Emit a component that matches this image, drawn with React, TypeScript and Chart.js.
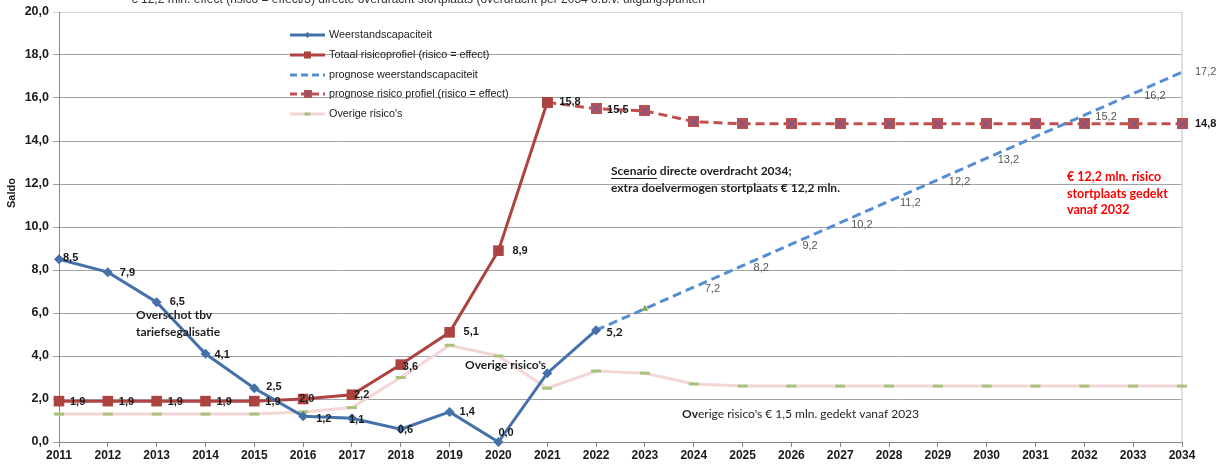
import React, { useEffect, useRef } from 'react';
import { Chart, registerables } from 'chart.js';

Chart.register(...registerables);

// ---------- DATA ----------
const years = ['2011', '2012', '2013', '2014', '2015', '2016', '2017', '2018', '2019', '2020', '2021', '2022',
  '2023', '2024', '2025', '2026', '2027', '2028', '2029', '2030', '2031', '2032', '2033', '2034'];

const weerstandscapaciteit = [8.5, 7.9, 6.5, 4.1, 2.5, 1.2, 1.1, 0.6, 1.4, 0.0, 3.2, 5.2,
  null, null, null, null, null, null, null, null, null, null, null, null];

const totaalRisicoprofiel = [1.9, 1.9, 1.9, 1.9, 1.9, 2.0, 2.2, 3.6, 5.1, 8.9, 15.8, null,
  null, null, null, null, null, null, null, null, null, null, null, null];

const prognoseWeerstand = [null, null, null, null, null, null, null, null, null, null, null, 5.2,
  6.2, 7.2, 8.2, 9.2, 10.2, 11.2, 12.2, 13.2, 14.2, 15.2, 16.2, 17.2];

const prognoseRisico = [null, null, null, null, null, null, null, null, null, null, 15.8, 15.5,
  15.4, 14.9, 14.8, 14.8, 14.8, 14.8, 14.8, 14.8, 14.8, 14.8, 14.8, 14.8];

const overigeRisicos = [1.3, 1.3, 1.3, 1.3, 1.3, 1.4, 1.6, 3.0, 4.5, 4.0, 2.5, 3.3,
  3.2, 2.7, 2.6, 2.6, 2.6, 2.6, 2.6, 2.6, 2.6, 2.6, 2.6, 2.6];

const yTickValues = [0, 2, 4, 6, 8, 10, 12, 14, 16, 18, 20];

const seriesNames = [
  'Weerstandscapaciteit',
  'Totaal risicoprofiel (risico = effect)',
  'prognose weerstandscapaciteit',
  'prognose risico profiel (risico = effect)',
  "Overige risico's",
];

const titleText = '€ 12,2 mln. effect (risico = effect/3) directe overdracht stortplaats (overdracht per 2034 o.b.v. uitgangspunten';
const scenarioLine1a = 'Scenario';
const scenarioLine1b = ' directe overdracht 2034;';
const scenarioLine2 = 'extra doelvermogen stortplaats € 12,2 mln.';
const redNote = ['€ 12,2 mln. risico', 'stortplaats gedekt', 'vanaf 2032'];
const overschotNote = ['Overschot tbv', 'tariefsegalisatie'];
const overigeNote = "Overige risico's";
const overigeBottomBold = 'Ov';
const overigeBottomRest = "erige risico's € 1,5 mln. gedekt vanaf 2023";

// which data points carry a value label, and label placement (offset from point)
const weerstandLabelPos = [
  { i: 0, dx: 4, dy: -1 }, { i: 1, dx: 12, dy: 1 }, { i: 2, dx: 13, dy: 0 }, { i: 3, dx: 9, dy: 1 },
  { i: 4, dx: 12, dy: -1 }, { i: 5, dx: 13, dy: 3 }, { i: 6, dx: -3, dy: 2 }, { i: 7, dx: -3, dy: 1 },
  { i: 8, dx: 10, dy: 0 }, { i: 9, dx: 0, dy: -9 },
];
const weerstandLastLabelPos = { i: 11, dx: 10, dy: 2 };
const totaalLabelPos = [
  { i: 0, dx: 11, dy: 1 }, { i: 1, dx: 11, dy: 1 }, { i: 2, dx: 11, dy: 1 }, { i: 3, dx: 11, dy: 1 },
  { i: 4, dx: 11, dy: 1 }, { i: 5, dx: -4, dy: 0 }, { i: 6, dx: 2, dy: 0 }, { i: 7, dx: 2, dy: 2 },
  { i: 8, dx: 14, dy: 0 }, { i: 9, dx: 14, dy: 0 }, { i: 10, dx: 12, dy: 0 },
];
const prognoseRisicoLabelPos = [{ i: 11, dx: 11, dy: 1 }];
const prognoseRisicoLastLabelPos = { i: 23, dx: 13, dy: 0 };
const prognoseWeerstandLabelPos = [13, 14, 15, 16, 17, 18, 19, 21, 22].map((i) => ({ i, dx: 11, dy: 2 }));
const prognoseWeerstandLastLabelPos = { i: 23, dx: 13, dy: 0 };

// ---------- STYLE ----------
const BLUE = '#4471a9';
const BLUE_DASH = '#558ed5';
const RED = '#ad4340';
const RED_DASH = '#c0504d';
const PINK = '#f3d6d5';
const GREEN = '#a8c47c';
const SANS = '"Liberation Sans", Arial, sans-serif';
const CAL = 'Lato, "Open Sans", sans-serif';

const fmt = (v: number) => v.toFixed(1).replace('.', ',');

function makeXSquare(size: number): HTMLCanvasElement {
  const c = document.createElement('canvas');
  c.width = size;
  c.height = size;
  const g = c.getContext('2d')!;
  g.fillStyle = RED_DASH;
  g.fillRect(0, 0, size, size);
  g.strokeStyle = '#6d5a9a';
  g.lineWidth = 1.2;
  g.beginPath();
  g.moveTo(1.5, 1.5);
  g.lineTo(size - 1.5, size - 1.5);
  g.moveTo(size - 1.5, 1.5);
  g.lineTo(1.5, size - 1.5);
  g.stroke();
  return c;
}

export default function App() {
  const ref = useRef<HTMLCanvasElement | null>(null);

  useEffect(() => {
    document.body.style.margin = '0';
    const canvas = ref.current;
    if (!canvas) return;
    const xSquare = makeXSquare(11);

    const drawPointLabels = (chart: any, ds: number, items: any[], font: string, color: string) => {
      const ctx = chart.ctx;
      const meta = chart.getDatasetMeta(ds);
      const data = chart.data.datasets[ds].data as number[];
      ctx.save();
      ctx.font = font;
      ctx.fillStyle = color;
      ctx.textAlign = 'left';
      ctx.textBaseline = 'middle';
      items.forEach(({ i, dx, dy }) => {
        const p = meta.data[i];
        if (!p || data[i] == null) return;
        ctx.fillText(fmt(data[i]), p.x + dx, p.y + dy);
      });
      ctx.restore();
    };

    const annotations = {
      id: 'annotations',
      beforeDatasetsDraw(chart: any) {
        const { ctx, chartArea } = chart;
        ctx.save();
        ctx.strokeStyle = '#d4d4d4';
        ctx.lineWidth = 1.5;
        ctx.beginPath();
        ctx.moveTo(chartArea.right, chartArea.top);
        ctx.lineTo(chartArea.right, chartArea.bottom);
        ctx.stroke();
        ctx.restore();
      },
      afterDatasetsDraw(chart: any) {
        const ctx = chart.ctx;
        drawPointLabels(chart, 0, weerstandLabelPos, `bold 11px ${SANS}`, '#1a1a1a');
        drawPointLabels(chart, 0, [weerstandLastLabelPos], `bold 12px ${CAL}`, '#1a1a1a');
        drawPointLabels(chart, 1, totaalLabelPos, `bold 11px ${SANS}`, '#1a1a1a');
        drawPointLabels(chart, 3, prognoseRisicoLabelPos, `bold 11px ${SANS}`, '#1a1a1a');
        drawPointLabels(chart, 3, [prognoseRisicoLastLabelPos], `bold 11px ${SANS}`, '#1a1a1a');
        drawPointLabels(chart, 2, prognoseWeerstandLabelPos, `11px ${SANS}`, '#555555');
        drawPointLabels(chart, 2, [prognoseWeerstandLastLabelPos], `11px ${SANS}`, '#555555');

        ctx.save();
        ctx.textAlign = 'left';
        ctx.textBaseline = 'middle';

        // title (clipped at top)
        ctx.font = `12px ${SANS}`;
        ctx.fillStyle = '#333333';
        ctx.textBaseline = 'alphabetic';
        ctx.fillText(titleText, 131, 3);
        ctx.textBaseline = 'middle';

        // y axis title
        ctx.save();
        ctx.translate(12, 193);
        ctx.rotate(-Math.PI / 2);
        ctx.textAlign = 'center';
        ctx.font = `bold 11px ${SANS}`;
        ctx.fillStyle = '#1a1a1a';
        ctx.fillText('Saldo', 0, 0);
        ctx.restore();

        // legend
        const lx0 = 290, lx1 = 325, tx = 329;
        const rows = [35, 55, 75, 94, 114];
        ctx.font = `10.8px ${SANS}`;
        rows.forEach((y, k) => {
          ctx.save();
          ctx.lineWidth = 3;
          if (k === 0) { ctx.strokeStyle = BLUE; }
          if (k === 1) { ctx.strokeStyle = RED; }
          if (k === 2) { ctx.strokeStyle = BLUE_DASH; ctx.setLineDash([7, 4]); }
          if (k === 3) { ctx.strokeStyle = RED_DASH; ctx.setLineDash([7, 4]); }
          if (k === 4) { ctx.strokeStyle = PINK; }
          ctx.beginPath();
          ctx.moveTo(lx0, y);
          ctx.lineTo(lx1, y);
          ctx.stroke();
          ctx.setLineDash([]);
          const mx = (lx0 + lx1) / 2;
          if (k === 0) {
            ctx.fillStyle = BLUE;
            ctx.beginPath();
            ctx.moveTo(mx - 3, y); ctx.lineTo(mx, y - 3); ctx.lineTo(mx + 3, y); ctx.lineTo(mx, y + 3);
            ctx.closePath(); ctx.fill();
          }
          if (k === 1) { ctx.fillStyle = RED; ctx.fillRect(mx - 3.5, y - 3.5, 7, 7); }
          if (k === 3) { ctx.drawImage(xSquare, mx - 4, y - 4, 8, 8); }
          if (k === 4) {
            ctx.strokeStyle = GREEN; ctx.lineWidth = 3;
            ctx.beginPath(); ctx.moveTo(mx - 3, y); ctx.lineTo(mx + 3, y); ctx.stroke();
          }
          ctx.restore();
          ctx.fillStyle = '#222222';
          ctx.fillText(seriesNames[k], tx, y);
        });

        // Overschot note
        ctx.font = `bold 12px ${CAL}`;
        ctx.fillStyle = '#1f1f1f';
        ctx.fillText(overschotNote[0], 136, 315);
        ctx.fillText(overschotNote[1], 136, 332);

        // Overige risico's note (middle)
        ctx.fillText(overigeNote, 465, 365);

        // Scenario note
        ctx.font = `bold 12px ${CAL}`;
        ctx.fillStyle = '#1f1f1f';
        ctx.fillText(scenarioLine1a, 611, 171);
        const wA = ctx.measureText(scenarioLine1a).width;
        ctx.fillText(scenarioLine1b, 611 + wA, 171);
        ctx.fillRect(611, 178, wA, 1);
        ctx.fillText(scenarioLine2, 611, 188);

        // red note
        ctx.font = `bold 12.5px ${CAL}`;
        ctx.fillStyle = '#ff0000';
        redNote.forEach((t, k) => ctx.fillText(t, 1067, 177 + k * 16.5));

        // bottom note
        ctx.fillStyle = '#1f1f1f';
        ctx.font = `bold 12px ${CAL}`;
        ctx.fillText(overigeBottomBold, 682, 414);
        const wB = ctx.measureText(overigeBottomBold).width;
        ctx.font = `12px ${CAL}`;
        ctx.fillText(overigeBottomRest, 682 + wB, 414);

        ctx.restore();
      },
    };

    const ptRadius = (arr: (number | null)[], r: number) => arr.map((v) => (v == null ? 0 : r));

    const chart = new Chart(canvas, {
      type: 'line',
      data: {
        labels: years,
        datasets: [
          {
            label: seriesNames[0],
            data: weerstandscapaciteit,
            borderColor: BLUE,
            backgroundColor: BLUE,
            borderWidth: 3,
            pointStyle: 'rectRot',
            pointRadius: 5,
            pointBorderWidth: 0,
            pointBackgroundColor: BLUE,
            tension: 0,
            clip: false,
          },
          {
            label: seriesNames[1],
            data: totaalRisicoprofiel,
            borderColor: RED,
            backgroundColor: RED,
            borderWidth: 3,
            pointStyle: 'rect',
            pointRadius: 7.5,
            pointBorderWidth: 0,
            pointBackgroundColor: RED,
            tension: 0,
            clip: false,
          },
          {
            label: seriesNames[2],
            data: prognoseWeerstand,
            borderColor: BLUE_DASH,
            backgroundColor: BLUE_DASH,
            borderWidth: 3,
            borderDash: [9, 5],
            pointStyle: 'triangle',
            pointRadius: prognoseWeerstand.map((_, i) => (i === 12 ? 4 : 0)),
            pointBorderWidth: 0,
            pointBackgroundColor: '#7fa84a',
            tension: 0,
            clip: false,
          },
          {
            label: seriesNames[3],
            data: prognoseRisico,
            borderColor: RED_DASH,
            backgroundColor: RED_DASH,
            borderWidth: 3,
            borderDash: [9, 5],
            pointStyle: xSquare,
            pointRadius: ptRadius(prognoseRisico, 6),
            tension: 0,
            clip: false,
          },
          {
            label: seriesNames[4],
            data: overigeRisicos,
            borderColor: PINK,
            backgroundColor: PINK,
            borderWidth: 3,
            pointStyle: 'line',
            pointRadius: 5,
            pointBorderWidth: 3,
            pointBorderColor: GREEN,
            tension: 0,
            clip: false,
          },
        ],
      },
      options: {
        responsive: false,
        animation: false,
        devicePixelRatio: 1,
        events: [],
        layout: { padding: { top: 12, right: 35, left: 0, bottom: 0 } },
        plugins: {
          legend: { display: false },
          tooltip: { enabled: false },
          title: { display: false },
        },
        scales: {
          x: {
            offset: false,
            grid: { drawOnChartArea: false, tickLength: 5, color: '#868686' },
            border: { color: '#868686', width: 1 },
            ticks: {
              font: { family: SANS, size: 12, weight: 'bold' },
              color: '#1a1a1a',
              padding: 1,
              maxRotation: 0,
              autoSkip: false,
            },
            afterFit: (s: any) => { s.height = 22; },
          },
          y: {
            min: 0,
            max: 20,
            afterBuildTicks: (s: any) => { s.ticks = yTickValues.map((v) => ({ value: v })); },
            grid: {
              color: (c: any) => (c.tick && c.tick.value === 20 ? '#d6d6d6' : '#a3a3a3'),
              tickLength: 6,
              lineWidth: 1,
            },
            border: { color: '#868686', width: 1 },
            ticks: {
              font: { family: SANS, size: 12.5, weight: 'bold' },
              color: '#1a1a1a',
              padding: 4,
              callback: (v: any) => fmt(Number(v)),
            },
            afterFit: (s: any) => { s.width = 59; },
          },
        },
      },
      plugins: [annotations],
    } as any);

    return () => chart.destroy();
  }, []);

  return (
    <div style={{ width: 1217, height: 464 }}>
      <canvas ref={ref} width={1217} height={464} style={{ display: 'block' }} />
    </div>
  );
}
